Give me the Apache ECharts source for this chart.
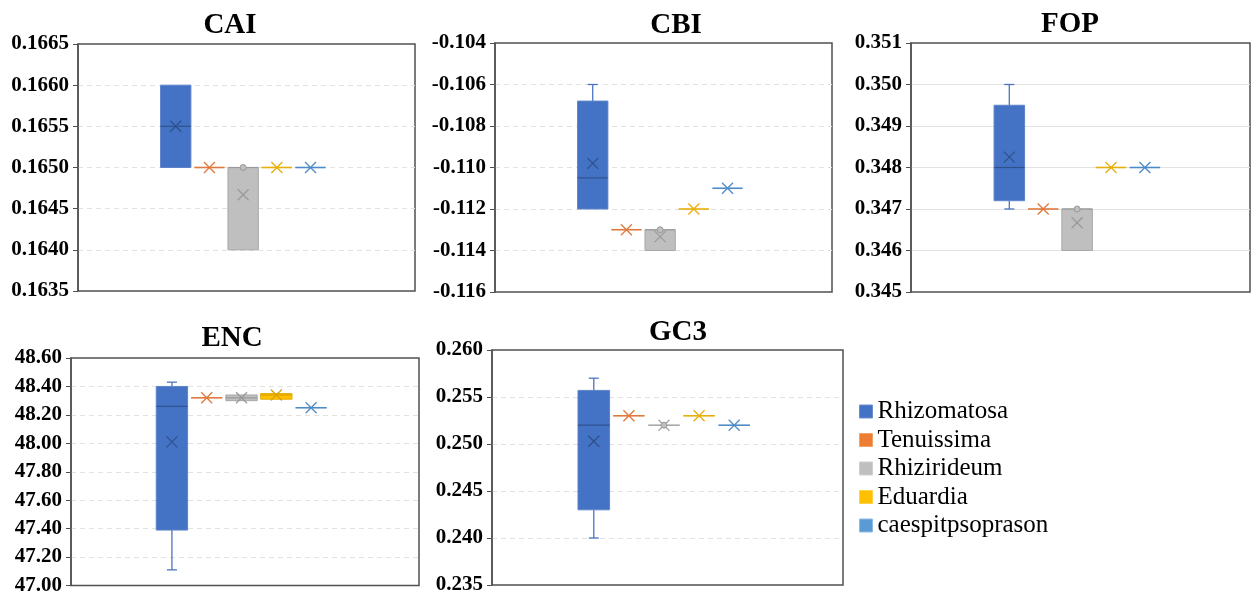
<!DOCTYPE html>
<html><head><meta charset="utf-8">
<script src="https://cdn.jsdelivr.net/npm/echarts@6/dist/echarts.min.js"></script>
<style>html,body{margin:0;padding:0;background:#fff}#c{width:1252px;height:596px}</style>
</head><body><div id="c"></div>
<script>
// ---------- data ----------
const species = ['Rhizomatosa', 'Tenuissima', 'Rhizirideum', 'Eduardia', 'caespitpsoprason'];

// box = [min, Q1, median, Q3, max]
const caiBoxes = [[0.1650, 0.1650, 0.1655, 0.1660, 0.1660], [0.1650, 0.1650, 0.1650, 0.1650, 0.1650], [0.1640, 0.1640, 0.1650, 0.1650, 0.1650], [0.1650, 0.1650, 0.1650, 0.1650, 0.1650], [0.1650, 0.1650, 0.1650, 0.1650, 0.1650]];
const caiMeans = [0.1655, 0.1650, 0.16467, 0.1650, 0.1650];
const caiPoints = [null, null, 0.1650, null, null];
const caiAxis = [0.1635, 0.1665, 0.0005];

const cbiBoxes = [[-0.1120, -0.1120, -0.1105, -0.1068, -0.1060], [-0.113, -0.113, -0.113, -0.113, -0.113], [-0.114, -0.114, -0.113, -0.113, -0.113], [-0.112, -0.112, -0.112, -0.112, -0.112], [-0.111, -0.111, -0.111, -0.111, -0.111]];
const cbiMeans = [-0.1098, -0.113, -0.11333, -0.112, -0.111];
const cbiPoints = [null, null, -0.113, null, null];
const cbiAxis = [-0.116, -0.104, 0.002];

const fopBoxes = [[0.3470, 0.3472, 0.3480, 0.3495, 0.3500], [0.347, 0.347, 0.347, 0.347, 0.347], [0.346, 0.346, 0.347, 0.347, 0.347], [0.348, 0.348, 0.348, 0.348, 0.348], [0.348, 0.348, 0.348, 0.348, 0.348]];
const fopMeans = [0.34825, 0.347, 0.34667, 0.348, 0.348];
const fopPoints = [null, null, 0.347, null, null];
const fopAxis = [0.345, 0.351, 0.001];

const encBoxes = [[47.11, 47.39, 48.26, 48.40, 48.43], [48.32, 48.32, 48.32, 48.32, 48.32], [48.30, 48.30, 48.32, 48.34, 48.34], [48.31, 48.31, 48.34, 48.35, 48.35], [48.25, 48.25, 48.25, 48.25, 48.25]];
const encMeans = [48.01, 48.32, 48.32, 48.34, 48.25];
const encPoints = [null, null, null, null, null];
const encAxis = [47.0, 48.6, 0.2];

const gc3Boxes = [[0.240, 0.243, 0.252, 0.2557, 0.257], [0.253, 0.253, 0.253, 0.253, 0.253], [0.252, 0.252, 0.252, 0.252, 0.252], [0.253, 0.253, 0.253, 0.253, 0.253], [0.252, 0.252, 0.252, 0.252, 0.252]];
const gc3Means = [0.2503, 0.253, 0.252, 0.253, 0.252];
const gc3Points = [null, null, 0.252, null, null];
const gc3Axis = [0.235, 0.260, 0.005];

// ---------- styles ----------
const styles = [
  { fill: '#4472C4', border: '#5E83CA', mid: '#2F528F', whisker: '#4A74C0', legendBorder: '#6F8FD0' },
  { fill: '#ED7D31', border: '#E07A3C', mid: '#D8692A', whisker: '#E07A3C', legendBorder: '#F3A06A' },
  { fill: '#BFBFBF', border: '#A8A8A8', mid: '#9A9A9A', whisker: '#A8A8A8', legendBorder: '#CFCFCF' },
  { fill: '#FFC000', border: '#E8AE0A', mid: '#D9A100', whisker: '#E8AE0A', legendBorder: '#FFD24D' },
  { fill: '#5B9BD5', border: '#4F8CC7', mid: '#3F7AB8', whisker: '#4F8CC7', legendBorder: '#8DBBE4' }
];

const panels = [
  { title: 'CAI', boxes: caiBoxes, means: caiMeans, points: caiPoints, axis: caiAxis, digits: 4, rect: { left: 78, top: 44, width: 337, height: 247 }, tpos: [230, 26], dashed: true },
  { title: 'CBI', boxes: cbiBoxes, means: cbiMeans, points: cbiPoints, axis: cbiAxis, digits: 3, rect: { left: 495, top: 43, width: 337, height: 249 }, tpos: [676, 26], dashed: true },
  { title: 'FOP', boxes: fopBoxes, means: fopMeans, points: fopPoints, axis: fopAxis, digits: 3, rect: { left: 911, top: 43, width: 339, height: 249 }, tpos: [1070, 25], dashed: false },
  { title: 'ENC', boxes: encBoxes, means: encMeans, points: encPoints, axis: encAxis, digits: 2, rect: { left: 71, top: 358, width: 348, height: 234 }, tpos: [232, 339], dashed: true },
  { title: 'GC3', boxes: gc3Boxes, means: gc3Means, points: gc3Points, axis: gc3Axis, digits: 3, rect: { left: 492, top: 350, width: 351, height: 235 }, tpos: [678, 333], dashed: true }
];

const FONT = '"Liberation Serif", "Times New Roman", serif';

function seg(x1, y1, x2, y2, color, lw) {
  return { type: 'line', shape: { x1: x1, y1: y1, x2: x2, y2: y2 }, style: { stroke: color, lineWidth: lw } };
}

function makeRender(j) {
  const st = styles[j];
  return function (params, api) {
    const x = api.value(0);
    const mn = api.value(1), q1 = api.value(2), md = api.value(3), q3 = api.value(4), mx = api.value(5);
    const mean = api.value(6), pt = api.value(7);
    const cx = api.coord([x, md])[0];
    const Y = v => api.coord([x, v])[1];
    const w = api.size([0.9, 0])[0];
    const hw = w / 2;
    const ch = [];
    const yq1 = Y(q1), yq3 = Y(q3);
    if (mx > q3) {
      ch.push(seg(cx, Y(mx), cx, yq3, st.whisker, 1.3));
      ch.push(seg(cx - 5, Y(mx), cx + 5, Y(mx), st.whisker, 1.3));
    }
    if (mn < q1) {
      ch.push(seg(cx, Y(mn), cx, yq1, st.whisker, 1.3));
      ch.push(seg(cx - 5, Y(mn), cx + 5, Y(mn), st.whisker, 1.3));
    }
    if (yq1 - yq3 > 1) {
      ch.push({ type: 'rect', shape: { x: cx - hw, y: yq3, width: w, height: yq1 - yq3 },
        style: { fill: st.fill, stroke: st.border, lineWidth: 1 } });
      ch.push(seg(cx - hw, Y(md), cx + hw, Y(md), st.mid, 1.2));
    } else {
      ch.push(seg(cx - hw, Y(md), cx + hw, Y(md), st.border, 1.6));
    }
    const ym = Y(mean), s = 5.5;
    const xc = (yq1 - yq3 > 1) ? st.mid : st.border;
    ch.push(seg(cx - s, ym - s, cx + s, ym + s, xc, 1.3));
    ch.push(seg(cx - s, ym + s, cx + s, ym - s, xc, 1.3));
    if (isFinite(pt)) {
      ch.push({ type: 'circle', shape: { cx: cx, cy: Y(pt), r: 3 }, style: { fill: st.fill, stroke: st.mid, lineWidth: 1 } });
    }
    return { type: 'group', children: ch };
  };
}

const grid = [], xAxis = [], yAxis = [], series = [], graphic = [];
panels.forEach((p, i) => {
  grid.push(Object.assign({ show: true, borderColor: '#505050', borderWidth: 1.5, backgroundColor: 'transparent' }, p.rect));
  xAxis.push({ type: 'value', gridIndex: i, min: -2.9, max: 7.1, show: false });
  yAxis.push({
    type: 'value', gridIndex: i, min: p.axis[0], max: p.axis[1], interval: p.axis[2],
    axisLine: { show: true, onZero: false, lineStyle: { color: '#505050', width: 1.5 } },
    axisTick: { show: true, inside: false, length: 5, lineStyle: { color: '#505050', width: 1 } },
    axisLabel: { show: true, margin: 9, color: '#000', fontFamily: FONT, fontWeight: 'bold', fontSize: 21,
      formatter: v => v.toFixed(p.digits) },
    splitLine: { show: true, showMinLine: false, showMaxLine: false,
      lineStyle: { color: '#E2E2E2', width: 1, type: p.dashed ? [5, 4] : 'solid' } }
  });
  species.forEach((name, j) => {
    const b = p.boxes[j];
    const ptv = p.points[j] == null ? NaN : p.points[j];
    series.push({
      type: 'custom', name: name, xAxisIndex: i, yAxisIndex: i, clip: false,
      itemStyle: { color: styles[j].fill },
      encode: { x: 0, y: [1, 2, 3, 4, 5] },
      data: [[j, b[0], b[1], b[2], b[3], b[4], p.means[j], ptv]],
      renderItem: makeRender(j),
      silent: true
    });
  });
  graphic.push({ type: 'text', x: p.tpos[0], y: p.tpos[1],
    style: { text: p.title, fill: '#000', font: 'bold 29px ' + FONT, textAlign: 'center', textVerticalAlign: 'middle' } });
});

const chart = echarts.init(document.getElementById('c'), null, { renderer: 'canvas' });
chart.setOption({
  animation: false,
  backgroundColor: '#fff',
  grid: grid, xAxis: xAxis, yAxis: yAxis, series: series, graphic: graphic,
  legend: {
    orient: 'vertical', left: 859, top: 399, padding: 0, itemWidth: 13, itemHeight: 13, itemGap: 3.5,
    icon: 'rect', selectedMode: false,
    textStyle: { fontFamily: FONT, fontSize: 25, color: '#000', lineHeight: 25 },
    data: species.map((s, j) => ({ name: s, itemStyle: { color: styles[j].fill, borderColor: styles[j].legendBorder, borderWidth: 1 } }))
  }
});
</script></body></html>
